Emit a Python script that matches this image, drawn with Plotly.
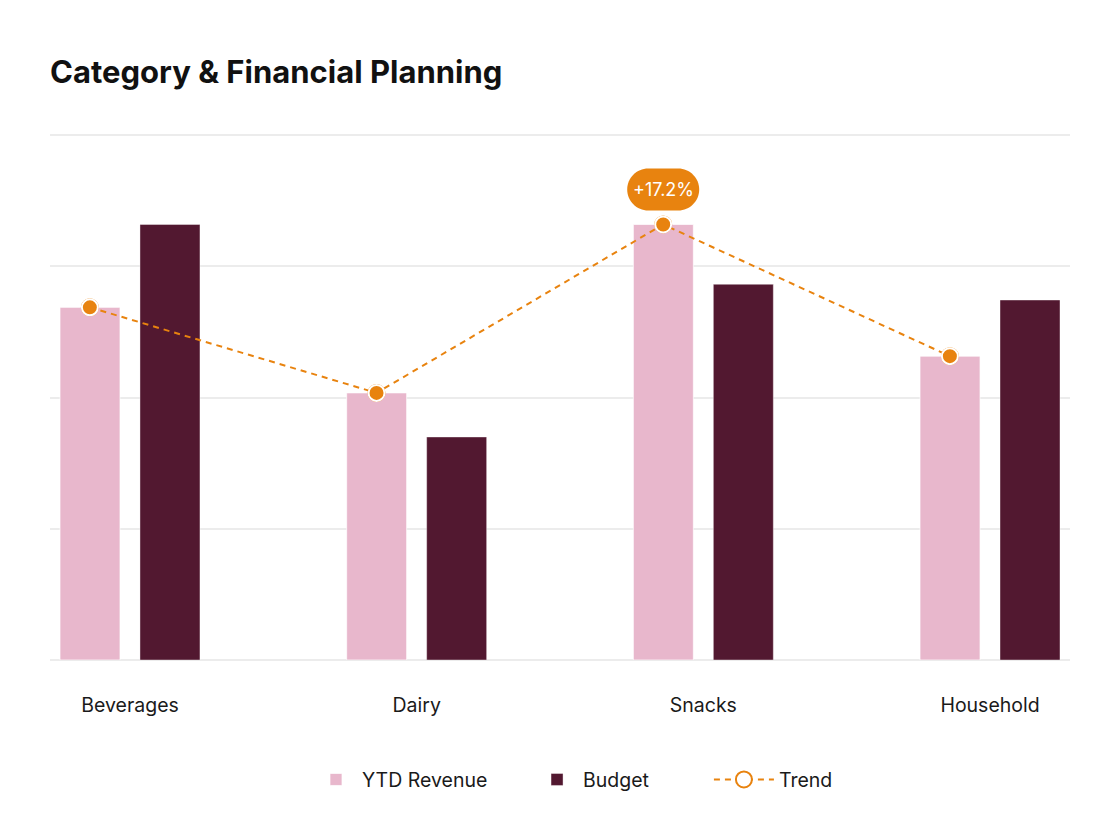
"""
Category & Financial Planning: YTD revenue vs budget with a trend line.
"""

import plotly.graph_objects as go

categories = ["Beverages", "Dairy", "Snacks", "Household"]
ytd_revenue = [67.2, 50.9, 83.0, 57.9]
budget = [83.0, 42.5, 71.6, 68.6]
trend = [67.2, 50.9, 83.0, 57.9]
callout_label = "+17.2%"
callout_index = 2

PINK = "#E8B7CC"
PLUM = "#521830"
ORANGE = "#E8830F"
FONT = "Inter, 'Open Sans', sans-serif"

# trend points sit on top of the YTD bar in each group
trend_offset = -0.14
x_pos = list(range(len(categories)))
trend_x = [x + trend_offset for x in x_pos]

fig = go.Figure()

fig.add_trace(go.Bar(
    x=x_pos, y=ytd_revenue, name="YTD Revenue", legend="legend",
    marker=dict(color=PINK, line=dict(color="rgba(255,255,255,0.7)", width=1)),
    hoverinfo="skip",
))
fig.add_trace(go.Bar(
    x=x_pos, y=budget, name="Budget", legend="legend2",
    marker=dict(color=PLUM, line=dict(color="rgba(255,255,255,0.4)", width=1)),
    hoverinfo="skip",
))

# line + open marker for the legend entry
fig.add_trace(go.Scatter(
    x=trend_x, y=trend, name="Trend", mode="lines+markers", legend="legend3",
    line=dict(color=ORANGE, width=2, dash="6px,5px"),
    marker=dict(size=16, color="white", line=dict(color=ORANGE, width=2)),
    hoverinfo="skip",
))
# filled markers drawn on the chart
fig.add_trace(go.Scatter(
    x=trend_x, y=trend, mode="markers", showlegend=False,
    marker=dict(size=16, color=ORANGE, line=dict(color="white", width=2)),
    hoverinfo="skip",
))

# rounded pill behind the callout
r, half_w, cy = 21, 15, 35
k = 0.5523 * r
pill = (
    f"M {-half_w},{cy - r} L {half_w},{cy - r} "
    f"C {half_w + k},{cy - r} {half_w + r},{cy - k} {half_w + r},{cy} "
    f"C {half_w + r},{cy + k} {half_w + k},{cy + r} {half_w},{cy + r} "
    f"L {-half_w},{cy + r} "
    f"C {-half_w - k},{cy + r} {-half_w - r},{cy + k} {-half_w - r},{cy} "
    f"C {-half_w - r},{cy - k} {-half_w - k},{cy - r} {-half_w},{cy - r} Z"
)
fig.add_shape(
    type="path", path=pill,
    xref="x", yref="y", xsizemode="pixel", ysizemode="pixel",
    xanchor=trend_x[callout_index], yanchor=trend[callout_index],
    fillcolor=ORANGE, line=dict(width=0), layer="above",
)
fig.add_annotation(
    x=trend_x[callout_index], y=trend[callout_index], yshift=cy,
    text=callout_label, showarrow=False,
    font=dict(family=FONT, size=18, color="white"),
)

legend_style = dict(
    orientation="h", y=-0.226, yanchor="middle", xanchor="left",
    font=dict(family=FONT, size=19.5, color="#1a1a1a"),
    bgcolor="rgba(0,0,0,0)",
)

fig.update_layout(
    width=1120, height=840,
    margin=dict(l=42, r=58, t=122, b=188),
    paper_bgcolor="white", plot_bgcolor="white",
    font=dict(family=FONT, color="#1a1a1a"),
    title=dict(
        text="<b>Category & Financial Planning</b>",
        x=42 / 1120, xanchor="left", y=1 - 64 / 840, yanchor="middle",
        font=dict(family=FONT, size=31, color="#111111"),
    ),
    barmode="group", bargap=0.442, bargroupgap=0.25,
    showlegend=True,
    legend=dict(x=0.2549, itemwidth=42, **legend_style),
    legend2=dict(x=0.4716, itemwidth=42, **legend_style),
    legend3=dict(x=0.646, itemwidth=60, **legend_style),
    xaxis=dict(
        range=[-0.279, 3.279],
        tickmode="array", tickvals=x_pos, ticktext=categories,
        ticks="outside", ticklen=28, tickcolor="rgba(0,0,0,0)",
        showgrid=False, zeroline=False, showline=False,
        tickfont=dict(family=FONT, size=19.5, color="#1a1a1a"),
        fixedrange=True,
    ),
    yaxis=dict(
        range=[0, 101], tickmode="array", tickvals=[0, 25, 50, 75, 100],
        showticklabels=False,
        showgrid=True, gridcolor="#ececec", gridwidth=1.5,
        zeroline=True, zerolinecolor="#ececec", zerolinewidth=1.5,
        showline=False, fixedrange=True,
    ),
)

fig.write_html("out.html")
